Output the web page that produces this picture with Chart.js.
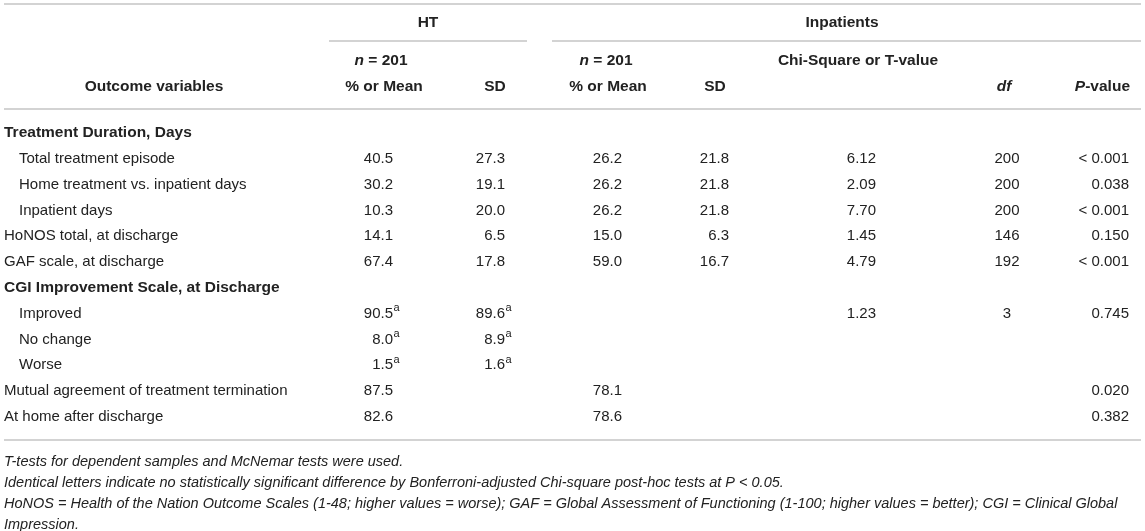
<!DOCTYPE html>
<html lang="en">
  <head>
    <meta charset="UTF-8" />
    <title>Outcome variables: HT vs Inpatients</title>
    <script src="https://cdn.jsdelivr.net/npm/chart.js"></script>
    <style>
      html,
      body {
        margin: 0;
        padding: 0;
        background: #fff;
      }
      #wrap {
        width: 1145px;
        height: 531px;
        position: relative;
      }
    </style>
  </head>
  <body>
    <div id="wrap"><canvas id="tableChart"></canvas></div>
    <script>
      // Table data, one array per column
      const rowLabels = [
        "Treatment Duration, Days",
        "Total treatment episode",
        "Home treatment vs. inpatient days",
        "Inpatient days",
        "HoNOS total, at discharge",
        "GAF scale, at discharge",
        "CGI Improvement Scale, at Discharge",
        "Improved",
        "No change",
        "Worse",
        "Mutual agreement of treatment termination",
        "At home after discharge",
      ];
      const indentedRows = [false, true, true, true, false, false, false, true, true, true, false, false];
      const boldRows = [true, false, false, false, false, false, true, false, false, false, false, false];

      const htMean = [null, 40.5, 30.2, 10.3, 14.1, 67.4, null, 90.5, 8.0, 1.5, 87.5, 82.6];
      const htSD = [null, 27.3, 19.1, 20.0, 6.5, 17.8, null, 89.6, 8.9, 1.6, null, null];
      const sigLetters = [null, null, null, null, null, null, null, "a", "a", "a", null, null];
      const inMean = [null, 26.2, 26.2, 26.2, 15.0, 59.0, null, null, null, null, 78.1, 78.6];
      const inSD = [null, 21.8, 21.8, 21.8, 6.3, 16.7, null, null, null, null, null, null];
      const testValues = [null, 6.12, 2.09, 7.70, 1.45, 4.79, null, 1.23, null, null, null, null];
      const dfValues = [null, 200, 200, 200, 146, 192, null, 3, null, null, null, null];
      const pValues = [null, "< 0.001", "0.038", "< 0.001", "0.150", "< 0.001", null, "0.745", null, null, "0.020", "0.382"];

      const footnotes = [
        "T-tests for dependent samples and McNemar tests were used.",
        "Identical letters indicate no statistically significant difference by Bonferroni-adjusted Chi-square post-hoc tests at P < 0.05.",
        "HoNOS = Health of the Nation Outcome Scales (1-48; higher values = worse); GAF = Global Assessment of Functioning (1-100; higher values = better); CGI = Clinical Global",
        "Impression.",
      ];

      // column anchors on the x scale (0..1145)
      const columns = [
        { x: 393, align: "right", values: htMean, digits: 1, sup: sigLetters },
        { x: 505, align: "right", values: htSD, digits: 1, sup: sigLetters },
        { x: 622, align: "right", values: inMean, digits: 1 },
        { x: 729, align: "right", values: inSD, digits: 1 },
        { x: 876, align: "right", values: testValues, digits: 2 },
        { x: 1007, align: "center", values: dfValues, digits: 0 },
        { x: 1129, align: "right", values: pValues },
      ];

      const FONT = '"Liberation Sans", Arial, Helvetica, sans-serif';
      const TEXT = "#222222";
      const RULE = "#c4c4c4";

      function fmt(v, digits) {
        if (typeof v === "string") return v;
        return digits === undefined ? String(v) : v.toFixed(digits);
      }

      // draws a list of text runs (bold/italic mix) as one string
      function drawRuns(ctx, runs, x, y, align, size) {
        const font = (r) => (r.italic ? "italic " : "") + "bold " + size + "px " + FONT;
        let total = 0;
        runs.forEach((r) => {
          ctx.font = font(r);
          total += ctx.measureText(r.t).width;
        });
        let cx = align === "center" ? x - total / 2 : align === "right" ? x - total : x;
        ctx.textAlign = "left";
        runs.forEach((r) => {
          ctx.font = font(r);
          ctx.fillText(r.t, cx, y);
          cx += ctx.measureText(r.t).width;
        });
      }

      function rule(ctx, x1, x2, y) {
        ctx.beginPath();
        ctx.moveTo(x1, y);
        ctx.lineTo(x2, y);
        ctx.stroke();
      }

      const tablePlugin = {
        id: "tablePlugin",
        afterDatasetsDraw(chart) {
          const ctx = chart.ctx;
          const xs = chart.scales.x;
          const px = (v) => xs.getPixelForValue(v);
          ctx.save();
          ctx.fillStyle = TEXT;
          ctx.textBaseline = "middle";

          // row labels, at the y of the category scale
          const ys = chart.scales.y;
          rowLabels.forEach((lab, i) => {
            const y = ys.getPixelForValue(i);
            ctx.font = (boldRows[i] ? "bold 15.5px " : "15px ") + FONT;
            ctx.textAlign = "left";
            ctx.fillText(lab, px(4) + (indentedRows[i] ? 15 : 0), y);
          });

          // value cells from the dataset points
          chart.data.datasets.forEach((ds, di) => {
            const col = columns[di];
            const meta = chart.getDatasetMeta(di);
            meta.data.forEach((pt, j) => {
              const raw = ds.data[j];
              ctx.font = "15px " + FONT;
              ctx.textAlign = col.align;
              ctx.fillText(raw.label, pt.x, pt.y);
              if (raw.sup) {
                ctx.font = "11px " + FONT;
                ctx.textAlign = "left";
                ctx.fillText(raw.sup, pt.x + 0.5, pt.y - 5.5);
              }
            });
          });

          // header
          ctx.strokeStyle = RULE;
          ctx.lineWidth = 1.6;
          rule(ctx, px(4), px(1141), 4);
          rule(ctx, px(329), px(527), 41);
          rule(ctx, px(552), px(1141), 41);
          rule(ctx, px(4), px(1141), 109);
          rule(ctx, px(4), px(1141), 440);

          const hs = 15.5;
          drawRuns(ctx, [{ t: "HT" }], px(428), 23, "center", hs);
          drawRuns(ctx, [{ t: "Inpatients" }], px(842), 23, "center", hs);
          drawRuns(ctx, [{ t: "n", italic: true }, { t: " = 201" }], px(381), 61, "center", hs);
          drawRuns(ctx, [{ t: "n", italic: true }, { t: " = 201" }], px(606), 61, "center", hs);
          drawRuns(ctx, [{ t: "Chi-Square or T-value" }], px(858), 61, "center", hs);
          drawRuns(ctx, [{ t: "Outcome variables" }], px(154), 87, "center", hs);
          drawRuns(ctx, [{ t: "% or Mean" }], px(384), 87, "center", hs);
          drawRuns(ctx, [{ t: "SD" }], px(495), 87, "center", hs);
          drawRuns(ctx, [{ t: "% or Mean" }], px(608), 87, "center", hs);
          drawRuns(ctx, [{ t: "SD" }], px(715), 87, "center", hs);
          drawRuns(ctx, [{ t: "df", italic: true }], px(1004), 87, "center", hs);
          drawRuns(ctx, [{ t: "P", italic: true }, { t: "-value" }], px(1130), 87, "right", hs);

          // footnotes
          ctx.font = "italic 14.5px " + FONT;
          ctx.textAlign = "left";
          footnotes.forEach((line, i) => {
            ctx.fillText(line, px(4), 462 + i * 21);
          });
          ctx.restore();
        },
      };

      // one scatter dataset per value column, only the filled cells
      const datasets = columns.map((col) => {
        const pts = [];
        col.values.forEach((v, i) => {
          if (v === null) return;
          pts.push({
            x: col.x,
            y: rowLabels[i],
            label: fmt(v, col.digits),
            sup: col.sup ? col.sup[i] : null,
          });
        });
        return { data: pts, pointRadius: 0, pointHoverRadius: 0 };
      });

      new Chart(document.getElementById("tableChart"), {
        type: "scatter",
        data: { datasets: datasets },
        options: {
          responsive: true,
          maintainAspectRatio: false,
          animation: false,
          events: [],
          layout: { padding: { top: 120.1, bottom: 101.3, left: 0, right: 0 } },
          plugins: { legend: { display: false }, tooltip: { enabled: false } },
          scales: {
            x: { type: "linear", min: 0, max: 1145, display: false },
            y: {
              type: "category",
              labels: rowLabels,
              offset: true,
              display: false,
            },
          },
        },
        plugins: [tablePlugin],
      });
    </script>
  </body>
</html>
